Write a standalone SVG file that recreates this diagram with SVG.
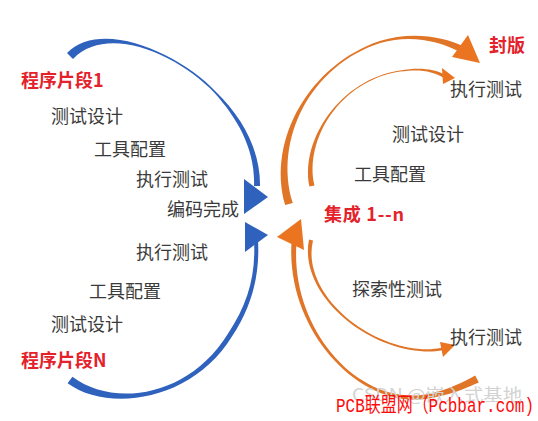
<svg xmlns="http://www.w3.org/2000/svg" width="538" height="421" viewBox="0 0 538 421">
<style>
.t{font-family:"Noto Sans CJK SC","Noto Sans",sans-serif;font-size:18px;fill:#3a3a3a}
.r{font-family:"Noto Sans CJK SC","Noto Sans",sans-serif;font-size:18px;font-weight:bold;fill:#e3222b}
.b{fill:#2f62bd}
.o{fill:#e07528}
.oa{fill:#ea7420}
.wm{font-family:"Liberation Mono","Noto Sans CJK SC",monospace;font-size:20px;fill:#ff0a0a}
.wg{font-family:"Noto Sans CJK SC","Noto Sans",sans-serif;font-size:17px;fill:#d2d2d2}
</style>
<rect width="538" height="421" fill="#ffffff"/>
<g id="connectors">
  <!-- blue top arc -->
  <path class="b" d="M67,53 C102,18 181,54.5 215.6,91.6 C242,117 260.5,150 260,186 L254,186 C255.5,150 238,119 214.4,92.8 C179,55.5 108,23 73,59 Z"/>
  <polygon class="b" points="244,179 268,197 244,214"/>
  <!-- blue bottom arc -->
  <path class="b" d="M67.6,383.2 C108,413 192.3,401.4 232.1,336.3 C252,306 260,275 258,240 L254,240 C256,275 248,304 227.9,333.7 C187.7,398.6 112,407 72.4,376.8 Z"/>
  <polygon class="b" points="245,222 268,235 245,252"/>
  <!-- orange big top arc -->
  <path class="o" d="M285.2,205.1 C266.5,140 309.8,64.5 379.7,41 C409.4,31.6 441.2,35.3 465,47 L462,53 C438.8,40.7 410.6,34.4 380.3,43 C310.2,65.5 273.5,140 292.8,202.9 Z"/>
  <polygon class="oa" points="468,35 480,63 452,57"/>
  <!-- orange small top arc -->
  <path class="o" d="M309.5,186.5 C300,140 339.9,79.5 399.9,70.4 C419.9,67.2 433.5,68.9 445,74.6 L444,78 C432.5,71.1 420.1,68.8 400.1,71.6 C340.1,80.5 304,140 314.5,185.5 Z"/>
  <polygon class="oa" points="442,68 455,78 443,84"/>
  <!-- orange big bottom arc -->
  <path class="o" d="M291.5,243 C286.1,330.6 360.4,411.6 430.5,398.3 C450.6,394.9 466.6,388.1 478.8,382.6 L475.2,375.4 C463.4,381.9 449.4,389.1 429.5,393.7 C359.6,408.4 289.9,329.4 296.5,243 Z"/>
  <polygon class="oa" points="301,219 277,237 304,250"/>
  <!-- orange small bottom arc -->
  <path class="o" d="M309,239.6 C298.7,290.6 359.9,346 420,351 C428,352.2 436,351.3 443,350.3 L443,347.7 C436,348.7 428,349.8 420,349 C360.1,344 301.3,289.4 313,240.4 Z"/>
  <polygon class="oa" points="440,342 455,345 443,357"/>
</g>
<g id="seg1"><text class="r" x="21" y="87">程序片段1</text></g>
<g id="l-design1"><text class="t" x="51" y="123">测试设计</text></g>
<g id="l-tool1"><text class="t" x="94" y="156">工具配置</text></g>
<g id="l-exec1"><text class="t" x="136" y="186">执行测试</text></g>
<g id="coded"><text class="t" x="167" y="216">编码完成</text></g>
<g id="l-exec2"><text class="t" x="136" y="259">执行测试</text></g>
<g id="l-tool2"><text class="t" x="89" y="298">工具配置</text></g>
<g id="l-design2"><text class="t" x="51" y="331">测试设计</text></g>
<g id="segN"><text class="r" x="21" y="367">程序片段N</text></g>
<g id="release"><text class="r" x="489" y="52">封版</text></g>
<g id="r-exec1"><text class="t" x="450" y="96">执行测试</text></g>
<g id="r-design"><text class="t" x="392" y="141">测试设计</text></g>
<g id="r-tool"><text class="t" x="354" y="181">工具配置</text></g>
<g id="integrate"><text class="r" x="324" y="221" textLength="80" lengthAdjust="spacing">集成 1--n</text></g>
<g id="r-explore"><text class="t" x="352" y="296">探索性测试</text></g>
<g id="r-exec2"><text class="t" x="450" y="344">执行测试</text></g>
<g id="watermarks">
  <text class="wg" x="352" y="401" textLength="170" lengthAdjust="spacingAndGlyphs">CSDN @嵌入式基地</text>
  <text class="wm" x="336" y="412" textLength="198" lengthAdjust="spacingAndGlyphs">PCB联盟网（Pcbbar.com)</text>
</g>
</svg>
